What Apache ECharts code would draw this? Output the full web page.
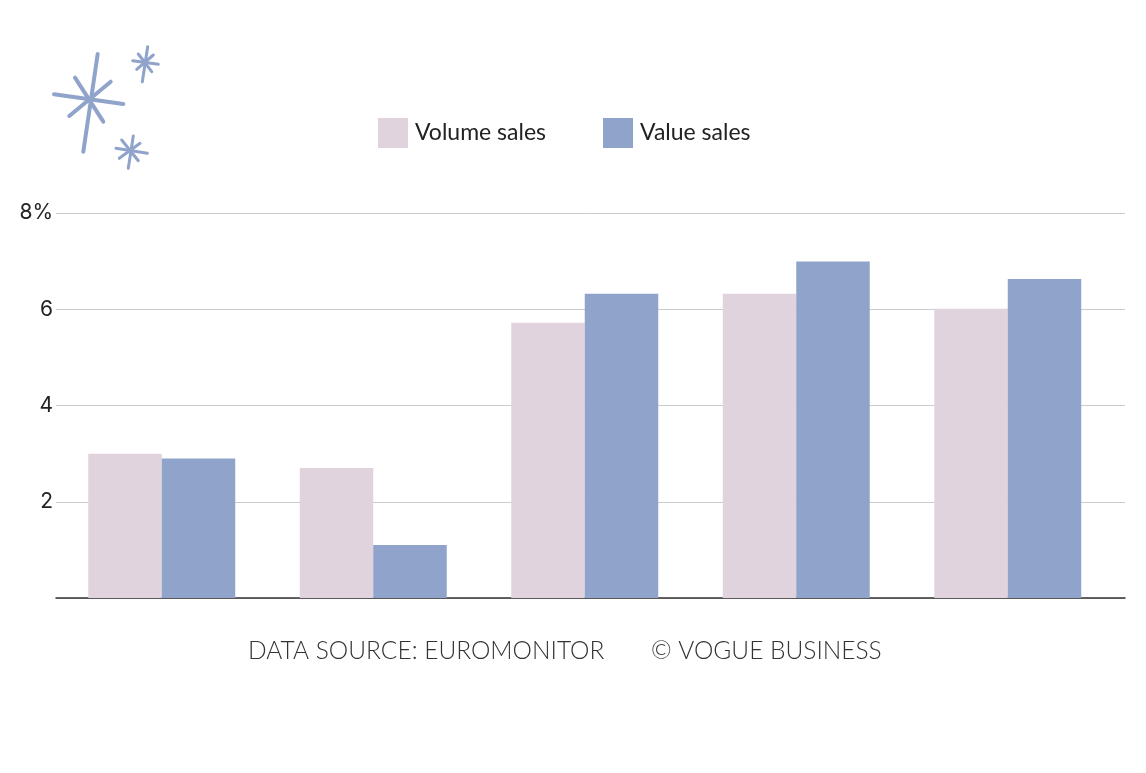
<!DOCTYPE html>
<html>
<head>
<meta charset="utf-8">
<script src="https://cdn.jsdelivr.net/npm/echarts@6/dist/echarts.min.js"></script>
<style>
  html, body { margin: 0; padding: 0; background: #ffffff; }
  #chart_container { width: 1146px; height: 773px; }
</style>
</head>
<body>
<div id="chart_container"></div>
<script>
// data (category labels are not printed in the chart)
const categories = ["1", "2", "3", "4", "5"]
const volumeSales = [3.0, 2.7, 5.72, 6.32, 6.01]
const valueSales = [2.9, 1.1, 6.32, 6.99, 6.63]
const yTicks = {0: "", 2: "2", 4: "4", 6: "6", 8: "8%"}

const pink = "#e1d3dd"
const blue = "#8fa3cb"

// sparkle decoration, top left
function sparkle(lines, width){
    return lines.map(l => ({
        type: "line",
        shape: {x1: l[0], y1: l[1], x2: l[2], y2: l[3]},
        style: {stroke: blue, lineWidth: width, lineCap: "round"}
    }))
}
const bigStar = [[97.7, 54, 83.3, 151.7], [54, 94.3, 123.3, 104], [75, 77.7, 103.3, 121.7], [110.7, 81.7, 69.3, 116]]
const starTop = [[147.7, 46.7, 142.3, 81.7], [132.7, 60.7, 158.3, 64.3], [138.3, 54, 151.7, 71.7], [153.3, 55, 136.7, 69.3]]
const starBottom = [[133.3, 136, 128.3, 168.3], [116, 148.3, 147.3, 153.3], [121.7, 140, 138.3, 160.7], [140, 143.3, 119.3, 158.3]]

document.addEventListener("DOMContentLoaded", buildChart);

function buildChart(){
    let chart = echarts.init(document.getElementById("chart_container"), null, {renderer: "canvas"})

    let option = {
        backgroundColor: "#ffffff",
        animation: false,
        legend: {
            left: 373,
            top: 113,
            itemWidth: 30,
            itemHeight: 30,
            itemGap: 57,
            icon: "rect",
            textStyle: {fontFamily: "Lato", fontSize: 23, color: "#222222", padding: [0, 0, 0, 2]},
            data: ["Volume sales", "Value sales"]
        },
        // grid 0 draws the gridlines + baseline, grid 1 holds the bars
        grid: [
            {left: 56, right: 21, top: 213, bottom: 175},
            {left: 56, right: 32.5, top: 213, bottom: 175}
        ],
        xAxis: [
            {
                type: "category", gridIndex: 0, data: categories,
                axisLine: {lineStyle: {color: "#333333", width: 1.5}},
                axisTick: {show: false},
                axisLabel: {show: false}
            },
            {
                type: "category", gridIndex: 1, data: categories,
                axisLine: {show: false}, axisTick: {show: false}, axisLabel: {show: false}
            }
        ],
        yAxis: [
            {
                type: "value", gridIndex: 0, min: 0, max: 8, interval: 2,
                axisLine: {show: false},
                axisTick: {show: false},
                splitLine: {lineStyle: {color: "#cccccc", width: 1}},
                axisLabel: {
                    margin: 3,
                    fontFamily: "Inter",
                    fontSize: 21,
                    color: "#222222",
                    padding: [4, 0, 0, 0],
                    formatter: v => yTicks[v]
                }
            },
            {
                type: "value", gridIndex: 1, min: 0, max: 8, interval: 2,
                axisLine: {show: false}, axisTick: {show: false},
                axisLabel: {show: false}, splitLine: {show: false}
            }
        ],
        series: [
            {
                name: "Volume sales", type: "bar",
                xAxisIndex: 1, yAxisIndex: 1,
                barWidth: 73.5, barGap: "0%",
                itemStyle: {color: pink},
                data: volumeSales
            },
            {
                name: "Value sales", type: "bar",
                xAxisIndex: 1, yAxisIndex: 1,
                barWidth: 73.5, barGap: "0%",
                itemStyle: {color: blue},
                data: valueSales
            }
        ],
        graphic: [
            ...sparkle(bigStar, 4),
            ...sparkle(starTop, 3),
            ...sparkle(starBottom, 3),
            {
                type: "text",
                left: 248,
                top: 639,
                style: {text: "DATA SOURCE: EUROMONITOR", font: "300 24.5px Lato", fill: "#333333"}
            },
            {
                type: "text",
                left: 651,
                top: 639,
                style: {text: "\u00a9 VOGUE BUSINESS", font: "300 24.5px Lato", fill: "#333333"}
            }
        ]
    }

    if (chart){
        chart.setOption(option)
    } else {
        console.error("Echart instance failed to init")
    }
}
</script>
</body>
</html>
